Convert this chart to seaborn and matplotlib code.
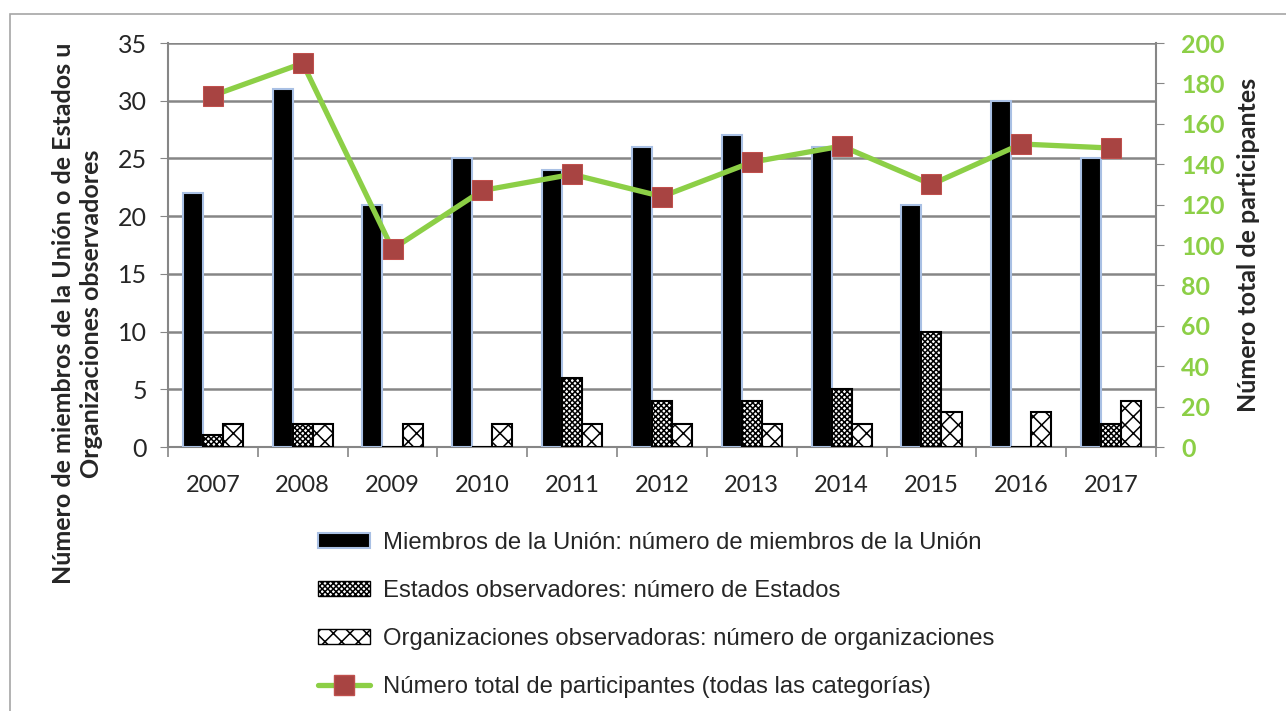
import numpy as np
import pandas as pd
import matplotlib.pyplot as plt
import seaborn as sns
from matplotlib.patches import Patch, Rectangle
from matplotlib.lines import Line2D

# datos
years = ["2007", "2008", "2009", "2010", "2011", "2012", "2013", "2014", "2015", "2016", "2017"]
miembros = [22, 31, 21, 25, 24, 26, 27, 26, 21, 30, 25]
estados = [1, 2, 0, 0, 6, 4, 4, 5, 10, 0, 2]
organizaciones = [2, 2, 2, 2, 2, 2, 2, 2, 3, 3, 4]
total_participantes = [174, 190, 98, 127, 135, 124, 141, 149, 130, 150, 148]

lbl_miembros = "Miembros de la Unión: número de miembros de la Unión"
lbl_estados = "Estados observadores: número de Estados"
lbl_org = "Organizaciones observadoras: número de organizaciones"
lbl_total = "Número total de participantes (todas las categorías)"

df = pd.DataFrame({"year": years, lbl_miembros: miembros,
                   lbl_estados: estados, lbl_org: organizaciones})
df_long = df.melt(id_vars="year", var_name="serie", value_name="valor")

sns.set_style("white")
plt.rcParams["font.family"] = ["Lato", "DejaVu Sans"]
plt.rcParams["hatch.linewidth"] = 1.1

verde = "#8ccf46"
rojo = "#a84442"
gris = "#868686"

fig = plt.figure(figsize=(12.86, 7.11), dpi=100)
ax = fig.add_axes([0.1306, 0.3713, 0.7683, 0.5682])

sns.barplot(data=df_long, x="year", y="valor", hue="serie", ax=ax,
            width=0.67, palette=["black", "white", "white"], saturation=1,
            legend=False, zorder=3)

edge_colors = ["#a9c0e4", "black", "black"]
hatches = [None, "xxxxxx", "xx"]
for cont, ec, h in zip(ax.containers, edge_colors, hatches):
    for bar in cont:
        bar.set_edgecolor(ec)
        bar.set_linewidth(1.5)
        if h:
            bar.set_hatch(h)

ax.set_ylim(0, 35)
ax.set_yticks(range(0, 36, 5))
ax.set_xlim(-0.5, len(years) - 0.5)
ax.grid(axis="y", color=gris, linewidth=1.8, zorder=0)
ax.set_axisbelow(True)
ax.tick_params(axis="y", labelsize=18, length=6, color=gris, direction="out", left=True, pad=9)
ax.tick_params(axis="x", labelsize=17, length=0, pad=20)
ax.set_xticks(np.arange(-0.5, len(years), 1), minor=True)
ax.tick_params(axis="x", which="minor", length=7, color=gris, bottom=True, width=1.2)
for s in ["left", "bottom", "right"]:
    ax.spines[s].set_color(gris)
    ax.spines[s].set_linewidth(1.5)
ax.spines["top"].set_visible(False)
ax.set_xlabel("")
ax.set_ylabel("Número de miembros de la Unión o de Estados u\nOrganizaciones observadores",
              fontsize=18, fontweight="bold", linespacing=1.25)
ax.yaxis.set_label_coords(-0.066, 0.33)

ax2 = ax.twinx()
sns.lineplot(x=np.arange(len(years)), y=total_participantes, ax=ax2,
             color=verde, linewidth=3.8, marker="s", markersize=14,
             markerfacecolor=rojo, markeredgecolor="#c0504d", zorder=5)
ax2.set_ylim(0, 200)
ax2.set_yticks(range(0, 201, 20))
ax2.tick_params(axis="y", labelsize=18, length=6, color=gris, labelcolor=verde, pad=12)
for lbl in ax2.get_yticklabels():
    lbl.set_fontweight("bold")
for s in ["left", "bottom", "right", "top"]:
    ax2.spines[s].set_visible(False)
ax2.set_ylabel("Número total de participantes", fontsize=18, fontweight="bold")
ax2.yaxis.set_label_coords(1.082, 0.5)

handles = [
    Patch(facecolor="black", edgecolor="#a9c0e4", linewidth=1.5),
    Patch(facecolor="white", edgecolor="black", hatch="xxxxxx"),
    Patch(facecolor="white", edgecolor="black", hatch="xx"),
    Line2D([0], [0], color=verde, linewidth=3.8, marker="s", markersize=14,
           markerfacecolor=rojo, markeredgecolor="#c0504d"),
]
fig.legend(handles, [lbl_miembros, lbl_estados, lbl_org, lbl_total],
           loc="upper left", bbox_to_anchor=(0.247, 0.252), frameon=False,
           prop={"family": "Liberation Sans", "size": 17.2}, labelspacing=1.09,
           handlelength=2.2, handleheight=0.55, handletextpad=0.55,
           borderpad=0, borderaxespad=0)

fig.patches.append(Rectangle((0.008, -0.1), 1.2, 1.08, transform=fig.transFigure,
                             fill=False, edgecolor="#a6a6a6", linewidth=1.2))

fig.savefig("out.png", dpi=100)
